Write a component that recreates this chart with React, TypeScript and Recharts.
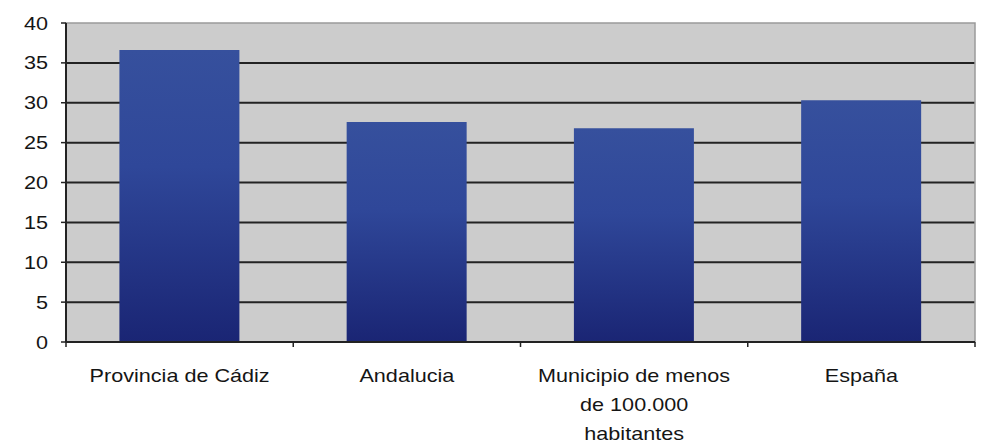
import { BarChart, Bar, XAxis, YAxis, CartesianGrid, ReferenceArea } from 'recharts';

const categories = ['Provincia de Cádiz', 'Andalucia', 'Municipio de menos\nde 100.000\nhabitantes', 'España'];
const values = [36.6, 27.6, 26.8, 30.3];
const yTicks = [0, 5, 10, 15, 20, 25, 30, 35, 40];
const gridValues = [5, 10, 15, 20, 25, 30, 35];

const data = categories.map((name, i) => ({ name, value: values[i] }));

const W = 983;
const H = 446;
const M = { top: 23, right: 8, left: 0, bottom: 0 };
const Y_W = 66;
const BAND = (W - M.left - M.right - Y_W) / categories.length;

const font = '"Liberation Sans", Arial, sans-serif';
const STRETCH = 1.2;

const XTick = (props: any) => {
  const { x, y, payload, index } = props;
  const lines = String(payload.value).split('\n');
  const left = x - BAND / 2;
  const axisY = y - 8;
  return (
    <g>
      <line x1={left} x2={left} y1={axisY} y2={axisY + 5} stroke="#222" strokeWidth={1.5} />
      {index === categories.length - 1 && (
        <line x1={left + BAND} x2={left + BAND} y1={axisY} y2={axisY + 5} stroke="#222" strokeWidth={1.5} />
      )}
      <g transform={`translate(${x},${axisY + 40}) scale(${STRETCH},1)`}>
        <text x={0} y={0} textAnchor="middle" fontFamily={font} fontSize={18} fill="#151515">
          {lines.map((l, i) => (
            <tspan key={i} x={0} dy={i === 0 ? 0 : 29}>{l}</tspan>
          ))}
        </text>
      </g>
    </g>
  );
};

const YTick = (props: any) => {
  const { x, y, payload } = props;
  return (
    <g transform={`translate(${x},${y}) scale(${STRETCH},1)`}>
      <text x={0} y={0} dy={6.5} textAnchor="end" fontFamily={font} fontSize={18} fill="#151515">
        {payload.value}
      </text>
    </g>
  );
};

export default function App() {
  return (
    <div style={{ position: 'absolute', left: 0, top: 0, width: W, height: H, background: '#fff' }}>
      <BarChart width={W} height={H} data={data} margin={M} barCategoryGap="23.5%">
        <defs>
          <linearGradient id="barGrad" x1="0" y1="0" x2="0" y2="1">
            <stop offset="0%" stopColor="#36509d" />
            <stop offset="40%" stopColor="#2f4799" />
            <stop offset="100%" stopColor="#1a2574" />
          </linearGradient>
        </defs>
        <CartesianGrid
          vertical={false}
          horizontalValues={gridValues}
          stroke="#222"
          strokeWidth={2}
          fill="#cccccc"
        />
        <ReferenceArea y1={0} y2={40} fill="none" stroke="#9a9a9a" strokeWidth={1.5} />
        <XAxis
          dataKey="name"
          height={H - 342}
          tick={<XTick />}
          tickLine={false}
          interval={0}
          axisLine={{ stroke: '#222', strokeWidth: 2 }}
        />
        <YAxis
          width={Y_W}
          domain={[0, 40]}
          ticks={yTicks}
          interval={0}
          tickSize={5}
          tickMargin={13}
          tick={<YTick />}
          tickLine={{ stroke: '#222', strokeWidth: 1.5 }}
          axisLine={{ stroke: '#222', strokeWidth: 2 }}
        />
        <Bar dataKey="value" fill="url(#barGrad)" isAnimationActive={false} />
      </BarChart>
    </div>
  );
}
